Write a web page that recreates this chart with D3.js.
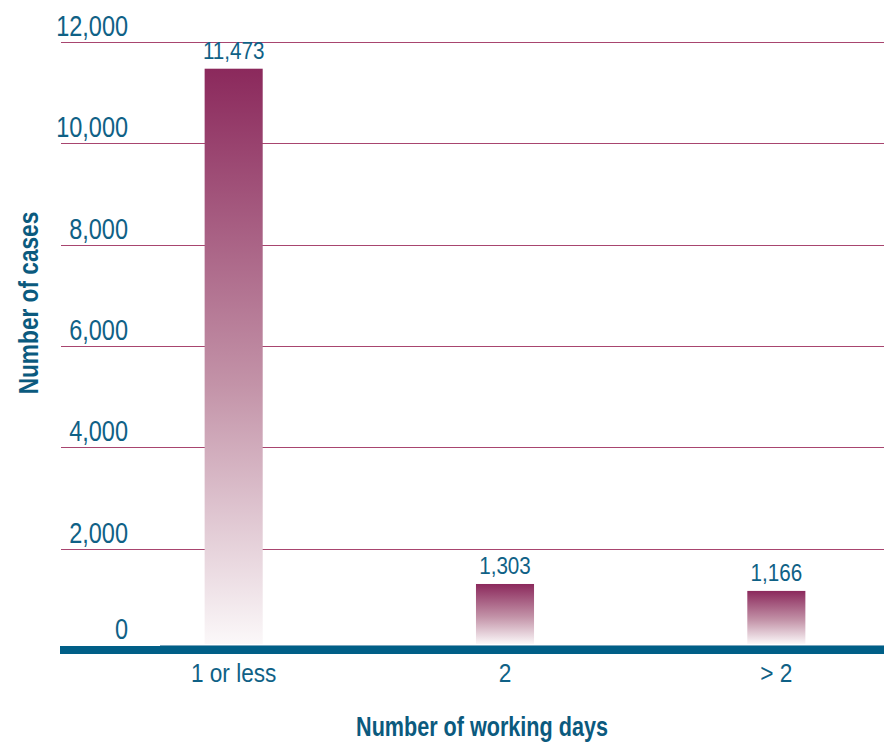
<!DOCTYPE html>
<html>
<head>
<meta charset="utf-8">
<script src="https://cdn.jsdelivr.net/npm/d3@7"></script>
<style>
  html, body { margin: 0; padding: 0; background: #ffffff; }
  svg { display: block; }
  text { font-family: "Liberation Sans", Arial, sans-serif; }
</style>
</head>
<body>
<svg id="chart" width="884" height="742"></svg>
<script>
// Cases by number of working days
const categories = ["1 or less", "2", "> 2"];
const cases = [11473, 1303, 1166];
const valueLabels = ["11,473", "1,303", "1,166"];
const yTicks = [0, 2000, 4000, 6000, 8000, 10000, 12000];
const yTickLabels = ["0", "2,000", "4,000", "6,000", "8,000", "10,000", "12,000"];

const textBlue = "#0f6186";
const titleBlue = "#0b5a7e";
const gridColor = "#a8456f";
const axisBlue = "#005f87";

const svg = d3.select("#chart");
const W = 884;

const y = d3.scaleLinear().domain([0, 12000]).range([650, 42]);
const x = d3.scaleBand()
  .domain(categories)
  .range([98, 912])
  .paddingInner(0.786)
  .paddingOuter(0.393);

// condensed look: squeeze a text horizontally around its anchor point
function squeeze(sel, px, py, sx, rot) {
  sel.attr("x", 0).attr("y", 0)
    .attr("transform", (d, i) => {
      const X = typeof px === "function" ? px(d, i) : px;
      const Y = typeof py === "function" ? py(d, i) : py;
      return `translate(${X},${Y})${rot ? ` rotate(${rot})` : ""} scale(${sx},1)`;
    });
}

// vertical gradient for the bars: deep plum at the top fading to near white
const defs = svg.append("defs");
const grad = defs.append("linearGradient")
  .attr("id", "barFade")
  .attr("x1", 0).attr("y1", 0).attr("x2", 0).attr("y2", 1);
grad.append("stop").attr("offset", "0%").attr("stop-color", "#8b295c");
grad.append("stop").attr("offset", "55%").attr("stop-color", "#c393a8");
grad.append("stop").attr("offset", "100%").attr("stop-color", "#fbf8f9");

// horizontal gridlines (the baseline is the axis bar)
svg.append("g")
  .selectAll("line")
  .data(yTicks.filter(d => d > 0))
  .join("line")
  .attr("x1", 61).attr("x2", W)
  .attr("y1", d => Math.round(y(d)) + 0.5)
  .attr("y2", d => Math.round(y(d)) + 0.5)
  .attr("stroke", gridColor)
  .attr("stroke-width", 1.2);

// y tick labels sit above their gridline, right-aligned
svg.append("g")
  .selectAll("text")
  .data(yTicks)
  .join("text")
  .attr("text-anchor", "end")
  .attr("fill", textBlue)
  .attr("font-size", 29)
  .text((d, i) => yTickLabels[i])
  .call(squeeze, 128, d => y(d) - (d === 0 ? 11 : 6), 0.81);

// bars
svg.append("g")
  .selectAll("rect")
  .data(cases)
  .join("rect")
  .attr("x", (d, i) => x(categories[i]))
  .attr("width", x.bandwidth())
  .attr("y", d => y(d))
  .attr("height", d => 644 - y(d))
  .attr("fill", "url(#barFade)");

// value labels above bars
svg.append("g")
  .selectAll("text")
  .data(cases)
  .join("text")
  .attr("text-anchor", "middle")
  .attr("fill", textBlue)
  .attr("font-size", 24)
  .text((d, i) => valueLabels[i])
  .call(squeeze, (d, i) => x(categories[i]) + x.bandwidth() / 2, d => y(d) - 10, 0.86);

// baseline axis bar
svg.append("rect")
  .attr("x", 60).attr("y", 646)
  .attr("width", W - 60).attr("height", 8)
  .attr("fill", axisBlue);
svg.append("line")
  .attr("x1", 160).attr("x2", W)
  .attr("y1", 645.5).attr("y2", 645.5)
  .attr("stroke", "#7aa6bd").attr("stroke-width", 1);

// category labels
const xAxis = d3.axisBottom(x).tickSize(0).tickPadding(0);
const gx = svg.append("g")
  .attr("transform", "translate(0,682)")
  .call(xAxis);
gx.select(".domain").remove();
gx.selectAll(".tick text")
  .attr("dy", 0)
  .attr("y", 0)
  .attr("fill", textBlue)
  .attr("font-size", 26)
  .attr("font-family", null)
  .attr("transform", "scale(0.87,1)");

// axis titles
svg.append("text")
  .attr("text-anchor", "middle")
  .attr("fill", titleBlue)
  .attr("font-size", 27)
  .attr("font-weight", "bold")
  .text("Number of working days")
  .call(squeeze, 482, 736, 0.80);

svg.append("text")
  .attr("text-anchor", "middle")
  .attr("fill", titleBlue)
  .attr("font-size", 27)
  .attr("font-weight", "bold")
  .text("Number of cases")
  .call(squeeze, 38, 303, 0.84, -90);
</script>
</body>
</html>
